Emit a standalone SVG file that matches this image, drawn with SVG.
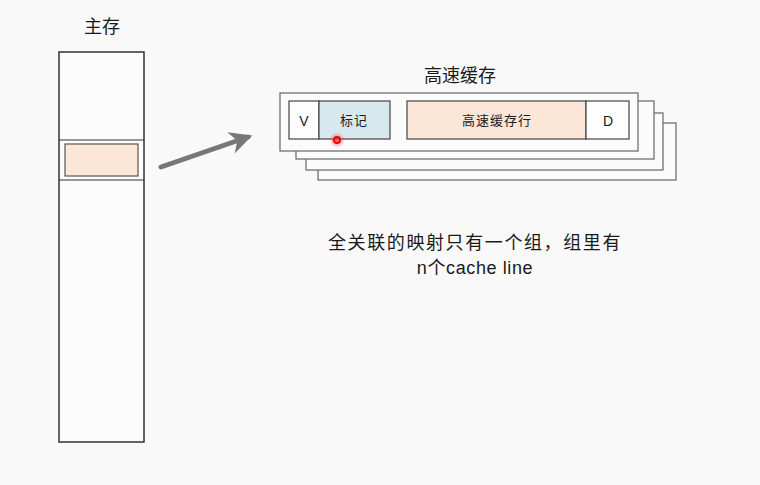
<svg xmlns="http://www.w3.org/2000/svg" width="760" height="485" viewBox="0 0 760 485">
<defs>
<style>
.t{font-family:"Liberation Sans","Noto Sans CJK SC",sans-serif;fill:#1a1a1a}
.box{fill:#fdfdfd;stroke:#444;stroke-width:1.2}
.frame{fill:#fbfbfb;stroke:#666;stroke-width:1.2}
</style>
<marker id="ah" viewBox="0 0 10 10" refX="8" refY="5" markerWidth="4.5" markerHeight="4.5" orient="auto" markerUnits="strokeWidth">
<path d="M0,0 L10,5 L0,10 L3,5 Z" fill="#777"/>
</marker>
<radialGradient id="glow"><stop offset="0" stop-color="#ff3030" stop-opacity="0.7"/><stop offset="1" stop-color="#ff3030" stop-opacity="0"/></radialGradient>
</defs>
<rect width="760" height="485" fill="#f9f9f9"/>
<g id="memory">
<text class="t" x="102" y="33" font-size="18" text-anchor="middle">主存</text>
<rect x="59" y="52" width="85" height="390" fill="#fcfcfc" stroke="#333" stroke-width="1.5"/>
<line x1="59" y1="140" x2="144" y2="140" stroke="#333" stroke-width="1.2"/>
<line x1="59" y1="180" x2="144" y2="180" stroke="#333" stroke-width="1.2"/>
<rect x="65" y="144" width="73" height="32" fill="#fbe6d8" stroke="#555" stroke-width="1.2"/>
</g>
<g id="connectors">
<line x1="161" y1="167" x2="248" y2="137" stroke="#777" stroke-width="5" stroke-linecap="round" marker-end="url(#ah)"/>
<line x1="390" y1="120" x2="407" y2="120" stroke="#555" stroke-width="1.2"/>
</g>
<g id="cache">
<text class="t" x="460" y="82" font-size="18" text-anchor="middle">高速缓存</text>
<rect class="frame" x="318" y="123" width="358" height="57"/>
<rect class="frame" x="306" y="113" width="357" height="57"/>
<rect class="frame" x="296" y="101" width="358" height="58"/>
<rect class="frame" x="280" y="93" width="358" height="58"/>
<g id="v"><rect class="box" x="289" y="101" width="30" height="38"/><text class="t" x="304" y="126" font-size="14" text-anchor="middle">V</text></g>
<g id="tag"><rect x="319" y="101" width="71" height="38" fill="#d8e8ef" stroke="#444" stroke-width="1.2"/><text class="t" x="354" y="125" font-size="13" letter-spacing="1" text-anchor="middle">标记</text></g>
<g id="line"><rect x="407" y="101" width="179" height="38" fill="#fbe6d8" stroke="#444" stroke-width="1.2"/><text class="t" x="497" y="125" font-size="13" letter-spacing="1" text-anchor="middle">高速缓存行</text></g>
<g id="d"><rect class="box" x="586" y="101" width="43" height="38"/><text class="t" x="608" y="126" font-size="14" text-anchor="middle">D</text></g>
</g>
<g id="cursor">
<circle cx="337" cy="140" r="8" fill="url(#glow)"/>
<circle cx="337" cy="140" r="3" fill="none" stroke="#e00" stroke-width="2"/>
</g>
<g id="note">
<text class="t" x="475" y="249" font-size="18" letter-spacing="1.6" text-anchor="middle">全关联的映射只有一个组，组里有</text>
<text class="t" x="475" y="274" font-size="18" letter-spacing="0.6" text-anchor="middle">n个cache line</text>
</g>
</svg>
